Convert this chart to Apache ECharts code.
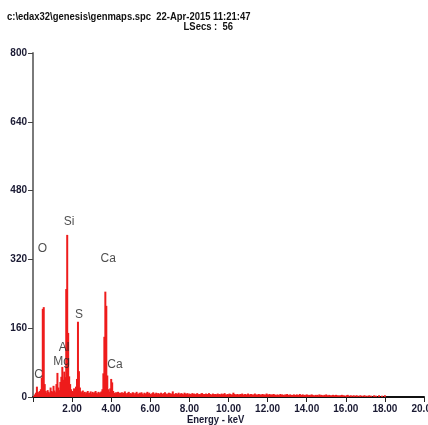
<!DOCTYPE html>
<html>
<head>
<meta charset="utf-8">
<script src="https://cdn.jsdelivr.net/npm/echarts@6/dist/echarts.min.js"></script>
<style>
html,body{margin:0;padding:0;background:#fff;}
#c{width:428px;height:425px;}
</style>
</head>
<body>
<div id="c"></div>
<script>
// Spectrum: counts in 0.05 keV bins starting at 0 keV
const binWidth = 0.05;
const counts = [
  0,2,6,10,24,12,8,14,18,45,
  205,209,30,14,10,16,12,9,22,14,
  12,26,15,11,30,56,22,16,35,47,
  70,40,59,46,251,377,149,48,30,18,
  14,12,20,11,24,42,175,60,22,13,
  10,15,9,12,8,11,14,9,10,13,
  8,12,9,11,14,10,8,12,9,11,
  13,18,55,140,245,212,50,18,12,20,
  42,34,14,10,8,11,9,12,7,10,
  8,11,7,10,13,9,6,10,12,8,9,7,11,10,6,9,12,8,7,10,
  9,11,8,6,10,7,9,12,8,10,7,6,9,11,8,7,10,6,9,8,
  7,10,8,6,9,11,7,8,6,10,9,7,8,13,7,6,9,8,7,10,
  6,8,9,7,6,10,8,7,9,6,8,7,6,9,7,8,6,7,9,6,
  7,6,8,9,6,7,5,8,7,6,9,7,6,5,8,7,6,7,5,8,
  6,7,5,8,6,7,9,6,5,7,6,8,7,5,6,10,7,6,5,7,
  6,5,7,6,8,5,6,7,5,6,8,6,5,7,6,5,6,8,5,6,
  5,7,6,5,6,7,5,6,5,8,6,5,7,5,6,5,7,6,5,4,
  6,5,4,7,5,6,5,4,6,5,7,5,4,6,5,4,5,6,4,5,
  6,4,5,7,4,5,6,4,5,4,6,5,4,5,4,6,5,4,3,5,
  4,5,3,6,4,5,4,3,5,4,6,4,3,5,4,3,4,5,3,4,
  5,3,4,0,4,3,5,3,4,0,3,4,5,3,0,4,3,0,4,3,
  0,4,3,0,3,4,0,3,0,4,3,0,3,0,4,0,3,0,0,4,
  0,3,0,0,4,0,0,3,0,0,4,0,0
];
// Element labels (energy keV, count position)
const elementNames = ['O','Si','Ca','S','Al','Mg','C','Ca'];
const elementEnergy = [0.48,1.84,3.85,2.35,1.59,1.46,0.29,4.19];
const elementLabelY = [344,407,321,191,114,81,53,74];
const yTicks = [0,160,320,480,640,800];
const xMin = 0, xMax = 20, xStep = 2;
const headerLine1 = 'c:\\edax32\\genesis\\genmaps.spc  22-Apr-2015 11:21:47';
const headerLine2 = 'LSecs :  56';
const xAxisTitle = 'Energy - keV';

const spectrum = counts.map((v,i)=>[+(i*binWidth).toFixed(2), v]);
const labelPts = elementNames.map((n,i)=>({name:n, value:[elementEnergy[i], elementLabelY[i]]}));

const FONT = '"Liberation Sans",Arial,sans-serif';
const chart = echarts.init(document.getElementById('c'), null, {renderer:'canvas'});
chart.setOption({
  animation:false,
  backgroundColor:'#ffffff',
  grid:{left:33,right:4,top:53,bottom:28,containLabel:false,outerBoundsMode:'none'},
  xAxis:{
    type:'value', min:xMin, max:xMax, interval:xStep,
    axisLine:{show:true,onZero:false,lineStyle:{color:'#111',width:2}},
    axisTick:{show:true,length:5,lineStyle:{color:'#222',width:1}},
    axisLabel:{margin:7,fontFamily:FONT,fontWeight:'bold',fontSize:10,color:'#1a1a33',
      hideOverlap:false, showMaxLabel:true,
      formatter:v=> v===0?'':v.toFixed(2)},
    splitLine:{show:false}
  },
  yAxis:{
    type:'value', min:yTicks[0], max:yTicks[yTicks.length-1], interval:yTicks[1]-yTicks[0],
    axisLine:{show:true,lineStyle:{color:'#7a7a7a',width:2}},
    axisTick:{show:true,length:5,lineStyle:{color:'#444',width:1}},
    axisLabel:{margin:6,fontFamily:FONT,fontWeight:'bold',fontSize:10,color:'#1a1a33'},
    splitLine:{show:false}
  },
  series:[
    {type:'bar', data:spectrum, barWidth:2, itemStyle:{color:'#ee1c1c'}, silent:true, z:1},
    {type:'scatter', data:labelPts, symbolSize:0, silent:true,
     label:{show:true,position:'inside',formatter:p=>p.name,fontFamily:FONT,
       fontSize:12,color:'#222'}}
  ],
  graphic:[
    {type:'text', x:7, y:17, scaleX:0.86, style:{text:headerLine1, font:'bold 11px '+FONT, fill:'#111', textAlign:'left', textVerticalAlign:'middle'}},
    {type:'text', x:233, y:27, scaleX:0.86, style:{text:headerLine2, font:'bold 11px '+FONT, fill:'#111', textAlign:'right', textVerticalAlign:'middle'}},
    {type:'text', x:187, y:420, scaleX:0.86, style:{text:xAxisTitle, font:'bold 11px '+FONT, fill:'#1a1a33', textAlign:'left', textVerticalAlign:'middle'}}
  ]
});
</script>
</body>
</html>
